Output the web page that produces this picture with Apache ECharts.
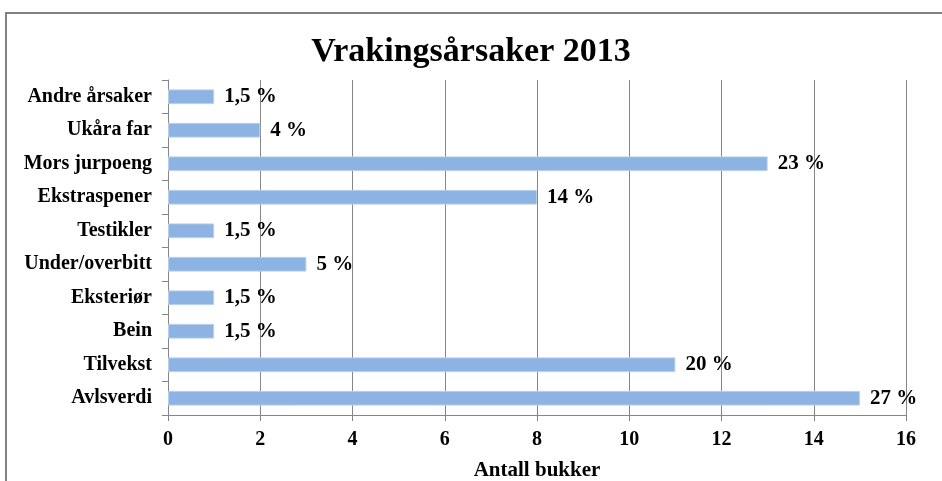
<!DOCTYPE html>
<html>
<head>
<meta charset="utf-8">
<script src="https://cdn.jsdelivr.net/npm/echarts@6/dist/echarts.min.js"></script>
<style>
  html, body { margin: 0; padding: 0; background: #fff; }
  #chart { width: 942px; height: 481px; }
</style>
</head>
<body>
<div id="chart"></div>
<script>
// kategorier nedenfra og opp
const categories = ['Avlsverdi', 'Tilvekst', 'Bein', 'Eksteriør', 'Under/overbitt', 'Testikler', 'Ekstraspener', 'Mors jurpoeng', 'Ukåra far', 'Andre årsaker']
const antall = [15, 11, 1, 1, 3, 1, 8, 13, 2, 1]
const prosent = ['27 %', '20 %', '1,5 %', '1,5 %', '5 %', '1,5 %', '14 %', '23 %', '4 %', '1,5 %']
const xTicks = [0, 2, 4, 6, 8, 10, 12, 14, 16]

const serif = '"Liberation Serif", "DejaVu Serif", serif'
let myChart = echarts.init(document.getElementById('chart'))
myChart.setOption({
  animation: false,
  title: {
    text: 'Vrakingsårsaker 2013',
    left: 'center',
    top: 30,
    textStyle: { fontFamily: serif, fontSize: 34, fontWeight: 'bold', color: '#000' },
  },
  graphic: [{
    type: 'rect',
    shape: { x: 6, y: 13, width: 1000, height: 1000 },
    style: { fill: 'none', stroke: '#808080', lineWidth: 2 },
    z: 100,
  }],
  grid: { left: 168, right: 36, top: 80, bottom: 66, containLabel: false, outerBoundsMode: 'none' },
  xAxis: {
    type: 'value',
    min: xTicks[0],
    max: xTicks[xTicks.length - 1],
    interval: 2,
    name: 'Antall bukker',
    nameLocation: 'middle',
    nameGap: 45,
    nameTextStyle: { fontFamily: serif, fontSize: 21, fontWeight: 'bold', color: '#000' },
    axisLine: { show: true, lineStyle: { color: '#868686' } },
    axisTick: { show: true, length: 6, lineStyle: { color: '#868686' } },
    axisLabel: { fontFamily: serif, fontSize: 20, fontWeight: 'bold', color: '#000', margin: 15 },
    splitLine: { show: true, lineStyle: { color: '#868686', width: 1 } },
  },
  yAxis: {
    type: 'category',
    data: categories,
    axisLine: { show: true, lineStyle: { color: '#868686' } },
    axisTick: { show: true, length: 6, lineStyle: { color: '#868686' } },
    axisLabel: { fontFamily: serif, fontSize: 20, fontWeight: 'bold', color: '#000', margin: 16 },
  },
  series: [{
    type: 'bar',
    data: antall,
    barCategoryGap: '56%',
    itemStyle: { color: '#8DB3E2', borderColor: '#B8CFEC', borderWidth: 1 },
    label: {
      show: true,
      position: 'right',
      distance: 10,
      formatter: (p) => prosent[p.dataIndex],
      fontFamily: serif,
      fontSize: 21,
      fontWeight: 'bold',
      color: '#000',
    },
  }],
})
</script>
</body>
</html>
